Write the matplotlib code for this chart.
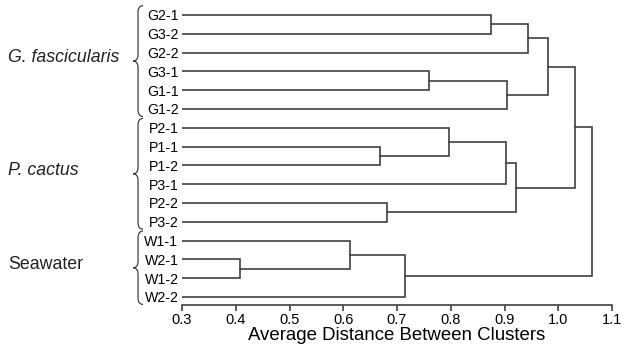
import matplotlib
matplotlib.use('Agg')
import matplotlib.pyplot as plt
from matplotlib.path import Path
from matplotlib.patches import PathPatch

plt.rcParams['font.family'] = ['Liberation Sans', 'DejaVu Sans']

leaves = ['G2-1', 'G3-2', 'G2-2', 'G3-1', 'G1-1', 'G1-2',
          'P2-1', 'P1-1', 'P1-2', 'P3-1', 'P2-2', 'P3-2',
          'W1-1', 'W2-1', 'W1-2', 'W2-2']

# linkage: (child a, child b, distance); new clusters numbered from 16 on
links = [
    (0, 1, 0.875),
    (16, 2, 0.944),
    (3, 4, 0.760),
    (18, 5, 0.905),
    (17, 19, 0.981),
    (7, 8, 0.669),
    (6, 21, 0.797),
    (22, 9, 0.903),
    (10, 11, 0.682),
    (23, 24, 0.922),
    (20, 25, 1.032),
    (13, 14, 0.408),
    (12, 27, 0.613),
    (28, 15, 0.714),
    (26, 29, 1.063),
]

groups = ['G. fascicularis', 'P. cactus', 'Seawater']
group_rows = [(0, 5), (6, 11), (12, 15)]
group_italic = [True, True, False]

xticks = [0.3, 0.4, 0.5, 0.6, 0.7, 0.8, 0.9, 1.0, 1.1]

col = '#404040'
lw = 1.2

fig = plt.figure(figsize=(6.23, 3.47), dpi=100)
ax = fig.add_axes([182/623, 1 - 305/347, 430/623, 299.4/347])

# node positions
ypos = {i: float(i) for i in range(len(leaves))}
xpos = {i: 0.0 for i in range(len(leaves))}
n = len(leaves)
for k, (a, b, d) in enumerate(links):
    ax.plot([xpos[a], d, d, xpos[b]], [ypos[a], ypos[a], ypos[b], ypos[b]],
            color=col, lw=lw, solid_joinstyle='miter')
    ypos[n + k] = (ypos[a] + ypos[b]) / 2
    xpos[n + k] = d

ax.set_xlim(0.3, 1.1)
ax.set_ylim(15.43, -0.5)
ax.set_xticks(xticks)
ax.set_xticklabels(['%.1f' % t for t in xticks], fontsize=10.5)
ax.set_yticks(range(n))
ax.set_yticklabels(leaves, fontsize=10.2)
ax.tick_params(axis='y', length=0, pad=2.5)
ax.tick_params(axis='x', direction='out', length=4, width=lw, color=col, pad=1.5)
for s in ['top', 'right', 'left']:
    ax.spines[s].set_visible(False)
ax.spines['bottom'].set_color(col)
ax.spines['bottom'].set_linewidth(lw)
ax.set_xlabel('Average Distance Between Clusters', fontsize=13.4, labelpad=0.5)

# curly braces for the sample groups
px = 0.1 / 53.8
xr, xm, xt = 0.3 - 39 * px, 0.3 - 44 * px, 0.3 - 49 * px
for (r0, r1) in group_rows:
    y0, y1 = r0 - 0.5, r1 + 0.4
    ym = (y0 + y1) / 2
    rr = 0.35
    verts = [(xr, y0), (xm, y0), (xm, y0 + rr),
             (xm, ym - rr), (xm, ym), (xt, ym),
             (xm, ym), (xm, ym + rr),
             (xm, y1 - rr), (xm, y1), (xr, y1)]
    codes = [Path.MOVETO, Path.CURVE3, Path.CURVE3,
             Path.LINETO, Path.CURVE3, Path.CURVE3,
             Path.CURVE3, Path.CURVE3,
             Path.LINETO, Path.CURVE3, Path.CURVE3]
    ax.add_patch(PathPatch(Path(verts, codes), fill=False, edgecolor=col,
                           lw=0.9, clip_on=False))

for g, (r0, r1), it in zip(groups, group_rows, group_italic):
    ax.text(0.3 - 174 * px, (r0 + r1) / 2 - 0.25, g, fontsize=12.8,
            style='italic' if it else 'normal', ha='left', va='center',
            color='#222222')

plt.savefig('out.png', dpi=100)
